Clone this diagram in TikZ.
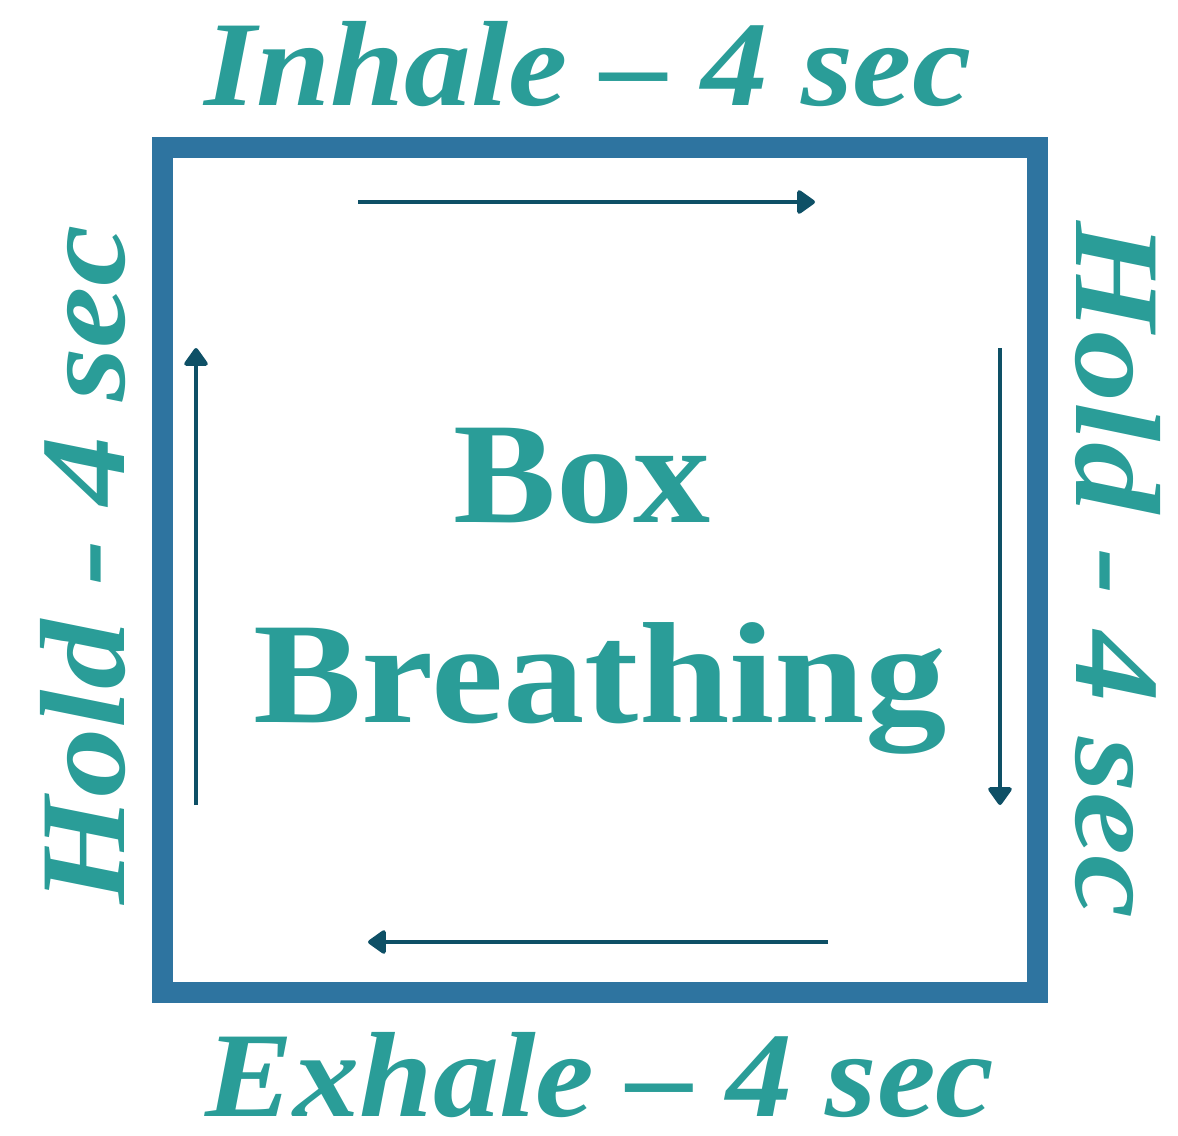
\documentclass[tikz,border=0pt]{standalone}
\usepackage{fontspec}
\setmainfont{Liberation Serif}
\usetikzlibrary{arrows.meta}
\definecolor{boxblue}{HTML}{2E74A0}
\definecolor{breathteal}{HTML}{2A9D98}
\definecolor{arrowdark}{HTML}{0E5066}

\tikzset{
  framebox/.style={boxblue, line width=12pt},
  flowarrow/.style={arrowdark, line width=2.3pt, -{Triangle[length=11pt,width=15pt,round]}},
  sidelabel/.style={breathteal, font=\fontsize{69}{69}\selectfont\bfseries\itshape, inner sep=0pt},
  titlelabel/.style={breathteal, font=\fontsize{82}{90}\selectfont\bfseries, inner sep=0pt}
}

\begin{document}
\begin{tikzpicture}[x=0.02cm, y=-0.02cm]
  \useasboundingbox (0,0) rectangle (1178,1136);
  % the square
  \coordinate (tl) at (162.5,147.5);
  \coordinate (br) at (1037.5,992.5);
  \draw[framebox] (tl) rectangle (br);
  % arrows round the square
  \coordinate (topA) at (358,202);   \coordinate (topB) at (815,202);
  \coordinate (rightA) at (1000,348); \coordinate (rightB) at (1000,805);
  \coordinate (botA) at (828,942);   \coordinate (botB) at (368,942);
  \coordinate (leftA) at (196,805);  \coordinate (leftB) at (196,348);
  \draw[flowarrow] (topA) -- (topB);
  \draw[flowarrow] (rightA) -- (rightB);
  \draw[flowarrow] (botA) -- (botB);
  \draw[flowarrow] (leftA) -- (leftB);
  % labels
  \node[sidelabel, anchor=base, xscale=1.1] (inhale) at (588,105) {Inhale – 4 sec};
  \node[sidelabel, anchor=base, xscale=1.09] (exhale) at (600,1116) {Exhale – 4 sec};
  \node[sidelabel, anchor=base, rotate=90, xscale=1.14] (holdL) at (124,565) {Hold - 4 sec};
  \node[sidelabel, anchor=base, rotate=-90, xscale=1.17] (holdR) at (1076,570) {Hold - 4 sec};
  \node[titlelabel, anchor=base, xscale=1.07] (boxword) at (582,522) {Box};
  \node[titlelabel, anchor=base, xscale=1.13] (breathword) at (600,722) {Breathing};
\end{tikzpicture}
\end{document}
